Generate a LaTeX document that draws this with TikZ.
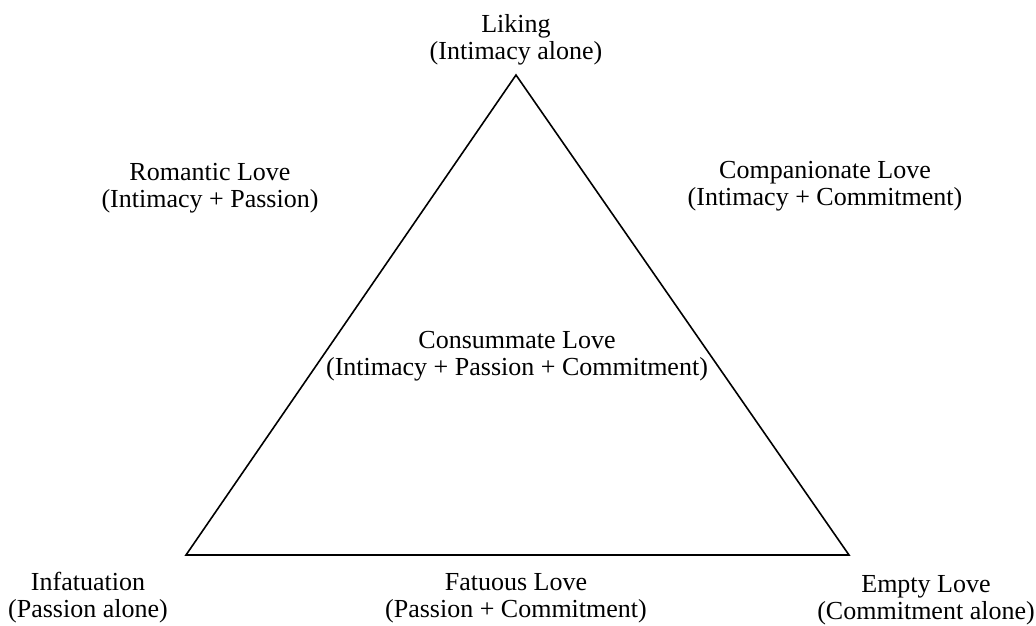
\documentclass[tikz,border=0pt]{standalone}
\usepackage{fontspec}
\setmainfont{Liberation Serif}
\usetikzlibrary{positioning}

\begin{document}
\begin{tikzpicture}[
  x=1pt,y=-1pt,
  lbl/.style={align=center,inner sep=0pt,font=\fontsize{26}{27}\selectfont},
  side/.style={line width=1.6pt,line join=miter}
]
\useasboundingbox (0,0) rectangle (1036,625);
\coordinate (top) at (516,75);
\coordinate (bl) at (186,555);
\coordinate (br) at (849,555);
\draw[side] (top)--(bl)--(br)--cycle;
\node[lbl] (liking) at (516,40) {Liking\\(Intimacy alone)};
\node[lbl] (romantic) at (210,188) {Romantic Love\\(Intimacy + Passion)};
\node[lbl] (companion) at (825,186) {Companionate Love\\(Intimacy + Commitment)};
\node[lbl] (consummate) at (517,356) {Consummate Love\\(Intimacy + Passion + Commitment)};
\node[lbl] (infatuation) at (88,598) {Infatuation\\(Passion alone)};
\node[lbl] (fatuous) at (516,598) {Fatuous Love\\(Passion + Commitment)};
\node[lbl] (empty) at (926,600) {Empty Love\\(Commitment alone)};
\end{tikzpicture}
\end{document}
